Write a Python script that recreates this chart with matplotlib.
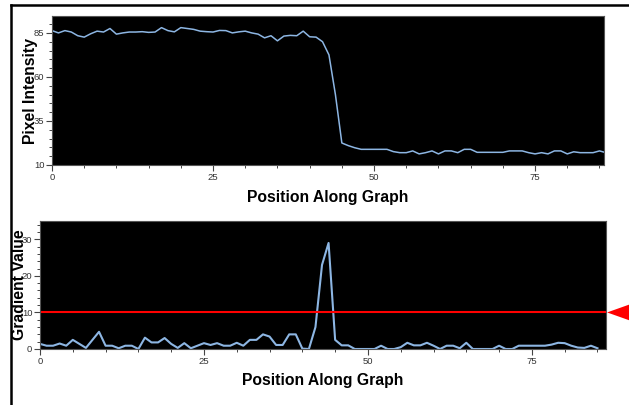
import matplotlib
matplotlib.use("Agg")
import matplotlib.pyplot as plt
from matplotlib.lines import Line2D
from matplotlib.patches import Polygon
from matplotlib.ticker import MultipleLocator
from matplotlib.transforms import blended_transform_factory

plt.rcParams['font.family'] = ['Liberation Sans', 'DejaVu Sans']

# ---- data ----
position = list(range(87))
intensity = [86.3, 85.0, 86.3, 85.5, 83.4, 82.6, 84.5, 86.0, 85.5, 87.5,
             84.3, 85.0, 85.5, 85.5, 85.7, 85.3, 85.5, 88.0, 86.3, 85.6,
             88.0, 87.5, 87.0, 86.0, 85.7, 85.5, 86.4, 86.3, 85.0, 85.6,
             86.0, 85.0, 84.3, 82.2, 83.4, 80.5, 83.2, 83.6, 83.4, 86.0,
             82.8, 82.6, 80.0, 72.5, 50.0, 22.5, 21.0, 19.8, 18.9, 18.9,
             18.9, 18.9, 18.9, 17.6, 17.0, 17.0, 18.0, 16.3, 17.0, 18.0,
             16.3, 18.0, 18.0, 17.0, 18.9, 18.9, 17.2, 17.2, 17.2, 17.2,
             17.2, 18.0, 18.0, 18.0, 17.0, 16.3, 17.0, 16.3, 18.0, 18.0,
             16.3, 17.5, 17.0, 17.0, 17.0, 18.0, 17.0]

grad_position = list(range(86))
gradient = [1.4, 0.9, 0.9, 1.5, 0.9, 2.5, 1.4, 0.3, 2.5, 4.7,
            0.9, 0.9, 0.2, 0.9, 0.9, 0.0, 3.1, 1.8, 1.8, 3.0,
            1.4, 0.3, 1.6, 0.2, 0.9, 1.6, 1.1, 1.6, 0.9, 0.9,
            1.7, 0.9, 2.5, 2.5, 4.0, 3.4, 1.1, 1.1, 4.0, 4.0,
            0.1, 0.0, 6.0, 23.0, 29.0, 2.5, 1.0, 1.0, 0.0, 0.0,
            0.0, 0.0, 0.9, 0.0, 0.0, 0.5, 1.7, 1.0, 1.0, 1.7,
            0.9, 0.0, 0.9, 0.9, 0.2, 1.7, 0.0, 0.0, 0.0, 0.0,
            0.9, 0.0, 0.0, 0.9, 0.9, 0.9, 0.9, 0.9, 1.2, 1.7,
            1.6, 0.9, 0.4, 0.3, 0.9, 0.2]
threshold = 10

x_major = [0, 25, 50, 75]
top_y_major = [10, 35, 60, 85]
bot_y_major = [0, 10, 20, 30]

line_color = '#8db6e3'

fig = plt.figure(figsize=(6.29, 4.05), dpi=100)
W, H = 629, 405


def style(ax):
    ax.set_facecolor('black')
    for s in ax.spines.values():
        s.set_color('#555555')
        s.set_linewidth(0.8)
    ax.tick_params(which='both', direction='out', colors='#444444',
                   labelsize=6.8, labelcolor='#333333')
    ax.tick_params(which='major', length=4, width=0.8, pad=1.5)
    ax.tick_params(which='minor', length=2.5, width=0.7)


# ---- top axes ----
ax1 = fig.add_axes([52 / W, 1 - 165 / H, 552 / W, 149 / H])
style(ax1)
ax1.plot(position, intensity, color=line_color, lw=1.1)
ax1.set_xlim(0, 85.7)
ax1.set_ylim(10, 94.6)
ax1.set_xticks(x_major)
ax1.set_yticks(top_y_major)
ax1.xaxis.set_minor_locator(MultipleLocator(5))
ax1.yaxis.set_minor_locator(MultipleLocator(5))
ax1.set_xlabel('Position Along Graph', fontsize=11.3, fontweight='bold', labelpad=6)
ax1.set_ylabel('Pixel Intensity', fontsize=11.3, fontweight='bold')
ax1.yaxis.set_label_coords(-0.026, 0.5)

# ---- bottom axes ----
ax2 = fig.add_axes([40 / W, 1 - 349 / H, 566 / W, 128 / H])
style(ax2)
ax2.plot(grad_position, gradient, color=line_color, lw=1.5)
ax2.axhline(threshold, color='#ff0000', lw=1.5)
ax2.set_xlim(0, 86.3)
ax2.set_ylim(0.25, 35)
ax2.set_xticks(x_major)
ax2.set_yticks(bot_y_major)
ax2.xaxis.set_minor_locator(MultipleLocator(5))
ax2.yaxis.set_minor_locator(MultipleLocator(2))
ax2.set_xlabel('Position Along Graph', fontsize=11.3, fontweight='bold', labelpad=5)
ax2.set_ylabel('Gradient Value', fontsize=11.3, fontweight='bold')
ax2.yaxis.set_label_coords(-0.023, 0.5)

# red threshold marker (triangle to the right of the axes)
tr = blended_transform_factory(ax2.transAxes, ax2.transData)
tri = Polygon([(1.002, threshold), (1.042, threshold + 2.2), (1.042, threshold - 2.2)],
              closed=True, facecolor='#ff0000', edgecolor='none',
              transform=tr, clip_on=False)
ax2.add_patch(tri)

# outer frame lines (top and left)
fig.add_artist(Line2D([11 / W, 1.0], [1 - 5 / H, 1 - 5 / H], color='black', lw=1.8,
                      transform=fig.transFigure))
fig.add_artist(Line2D([11 / W, 11 / W], [0.0, 1 - 5 / H], color='black', lw=1.8,
                      transform=fig.transFigure))

fig.savefig('out.png', dpi=100)
